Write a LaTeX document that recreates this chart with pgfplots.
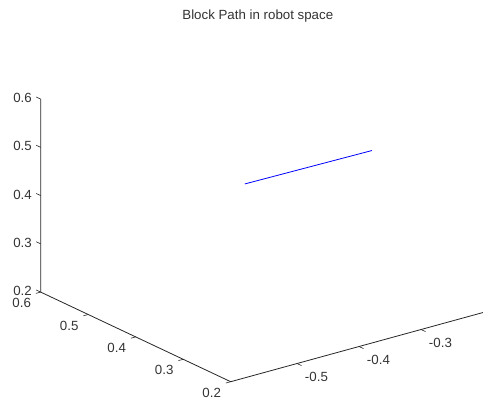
\documentclass[border=0pt]{standalone}
\usepackage{pgfplots}
\pgfplotsset{compat=1.18}
\usepackage{fontspec}
\setmainfont{Liberation Sans}

\definecolor{axcol}{gray}{0.15}
\definecolor{txtcol}{gray}{0.2}

\begin{document}
\begin{tikzpicture}[font=\fontsize{13.3bp}{16bp}\selectfont]
\begin{axis}[
  hide axis,
  clip=false,
  x={(620bp,170bp)}, y={(-475bp,224bp)}, z={(0bp,482.5bp)},
  xmin=-0.607, xmax=-0.2,
  ymin=0.2, ymax=0.6,
  zmin=0.2, zmax=0.6,
]
  % corner where the x and y axis lines meet
  \coordinate (O) at (axis cs:-0.607,0.2,0.2);

  % the three visible axis lines (box off)
  \draw[axcol, line width=0.8bp] (axis cs:-0.607,0.6,0.6) -- (axis cs:-0.607,0.6,0.2)
        -- (axis cs:-0.607,0.2,0.2) -- (axis cs:-0.2,0.2,0.2);

  % z ticks and labels
  \pgfplotsinvokeforeach{0.2,0.3,0.4,0.5,0.6}{
    \draw[axcol, line width=0.6bp] (axis cs:-0.607,0.6,#1) -- ++(-4.5bp,2.1bp);
    \path (axis cs:-0.607,0.6,#1) ++(-8.7bp,1bp) node[anchor=east, inner sep=0pt, text=txtcol] {#1};
  }
  % y ticks and labels
  \pgfplotsinvokeforeach{0.2,0.3,0.4,0.5,0.6}{
    \draw[axcol, line width=0.6bp] (axis cs:-0.607,#1,0.2) -- ++(-4.8bp,-1.3bp);
    \path (axis cs:-0.607,#1,0.2) ++(-19bp,-11bp) node[inner sep=0pt, text=txtcol] {#1};
  }
  % x ticks and labels
  \pgfplotsinvokeforeach{-0.5,-0.4,-0.3}{
    \draw[axcol, line width=0.6bp] (axis cs:#1,0.2,0.2) -- ++(4.5bp,-2.1bp);
    \path (axis cs:#1,0.2,0.2) ++(19.4bp,-13.7bp) node[inner sep=0pt, text=txtcol] {#1};
  }

  % block path
  \addplot3[blue, line width=0.8bp] coordinates {
    (-0.431,0.4,0.455)
    (-0.226,0.4,0.452)
  };

  % title
  \path (O) ++(27.1bp,361.7bp) node[anchor=base, inner sep=0pt, text=txtcol] {Block Path in robot space};
\end{axis}
\pgfresetboundingbox
\useasboundingbox (O) ++(-230.7bp,-18.3bp) rectangle ++(483bp,400bp);
\end{tikzpicture}
\end{document}
